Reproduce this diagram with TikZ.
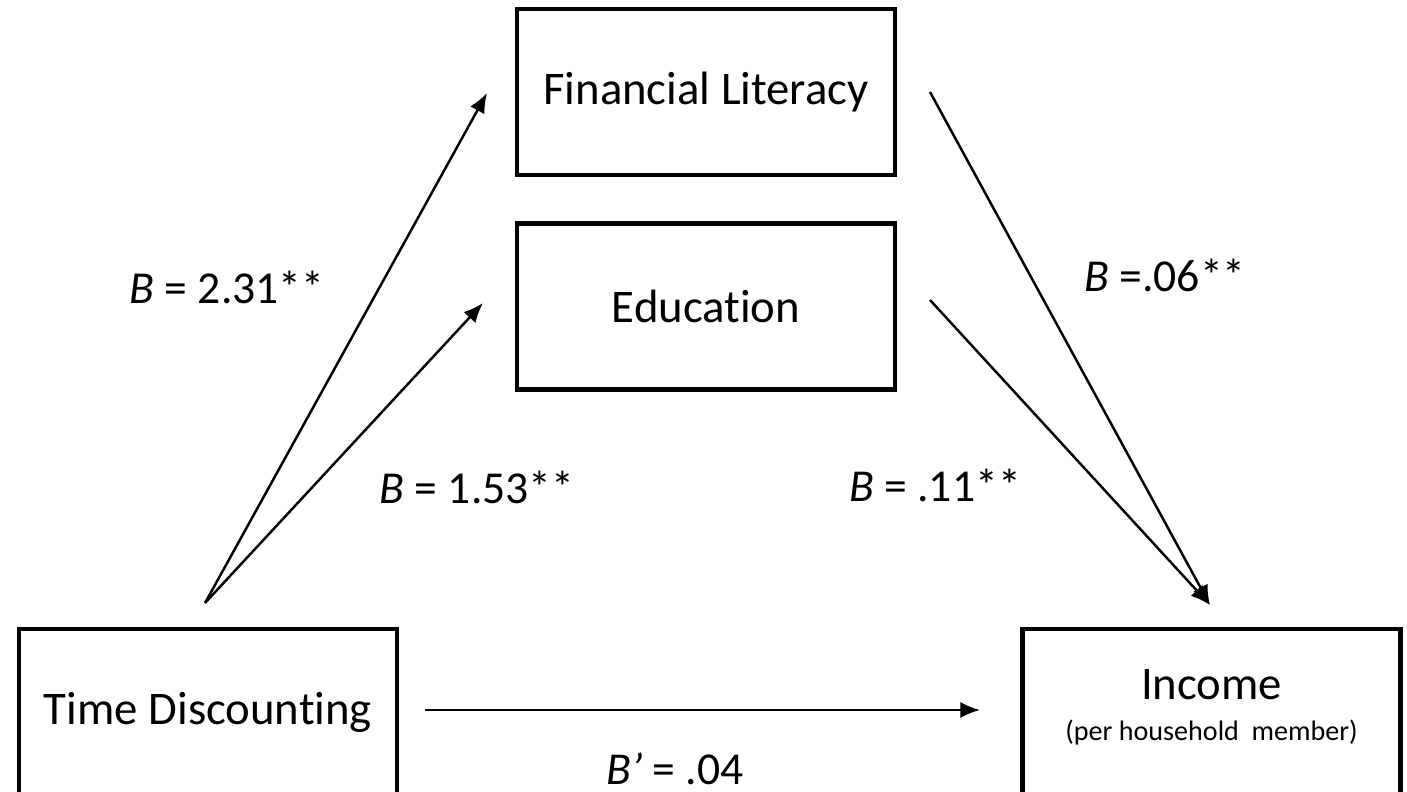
\documentclass[tikz,border=0pt]{standalone}
\usepackage{fontspec}
\setmainfont{Carlito}[Ligatures={TeX,NoCommon}]
\usetikzlibrary{arrows.meta,positioning}

\begin{document}
\begin{tikzpicture}[>={Latex[length=5.6pt,width=4.6pt]},line width=0.7pt,
		box/.style={draw,line width=1.3pt,minimum width=3.78cm,minimum height=1.66cm,align=center,font=\fontsize{13.3}{15}\selectfont},
		coef/.style={font=\fontsize{13}{15}\selectfont}]
		\useasboundingbox (0,0) rectangle (14.07,7.91);
		\clip (0,0) rectangle (14.07,7.91);

		\node[box] (fl) at (7.06,6.99) {Financial Literacy};
		\node[box] (edu) [below=0.44cm of fl] {Education};
		\node[box] (td) at (2.08,0.79) {Time Discounting};
		\node[box] (inc) [right=6.21cm of td] {Income\\[-3.5pt]{\fontsize{8}{10}\selectfont (per household\ \ member)}\\[-11pt]\mbox{}};

		% free ends of the paths
		\coordinate (tdout) at (2.05,1.88);
		\coordinate (flin) at (4.87,6.98);
		\coordinate (eduin) at (4.83,4.88);
		\coordinate (flout) at (9.30,6.99);
		\coordinate (eduout) at (9.30,4.91);
		\coordinate (incin) at (12.10,1.86);
		\coordinate (tdright) at (4.25,0.81);
		\coordinate (incleft) at (9.80,0.81);

		\path[->] (tdout) edge (flin)
		edge (eduin)
		(flout) edge (incin)
		(eduout) edge (incin)
		(tdright) edge (incleft);

		\node[coef] (b1) at (2.27,5.04) {\textit{B} = 2.31**};
		\node[coef] (b2) at (4.77,3.04) {\textit{B} = 1.53**};
		\node[coef] (b3) at (11.65,5.16) {\textit{B} =.06**};
		\node[coef] (b4) at (9.35,3.06) {\textit{B} = .11**};
		\node[coef] (b5) at (6.75,0.22) {\textit{B’} = .04};
	\end{tikzpicture}
\end{document}
